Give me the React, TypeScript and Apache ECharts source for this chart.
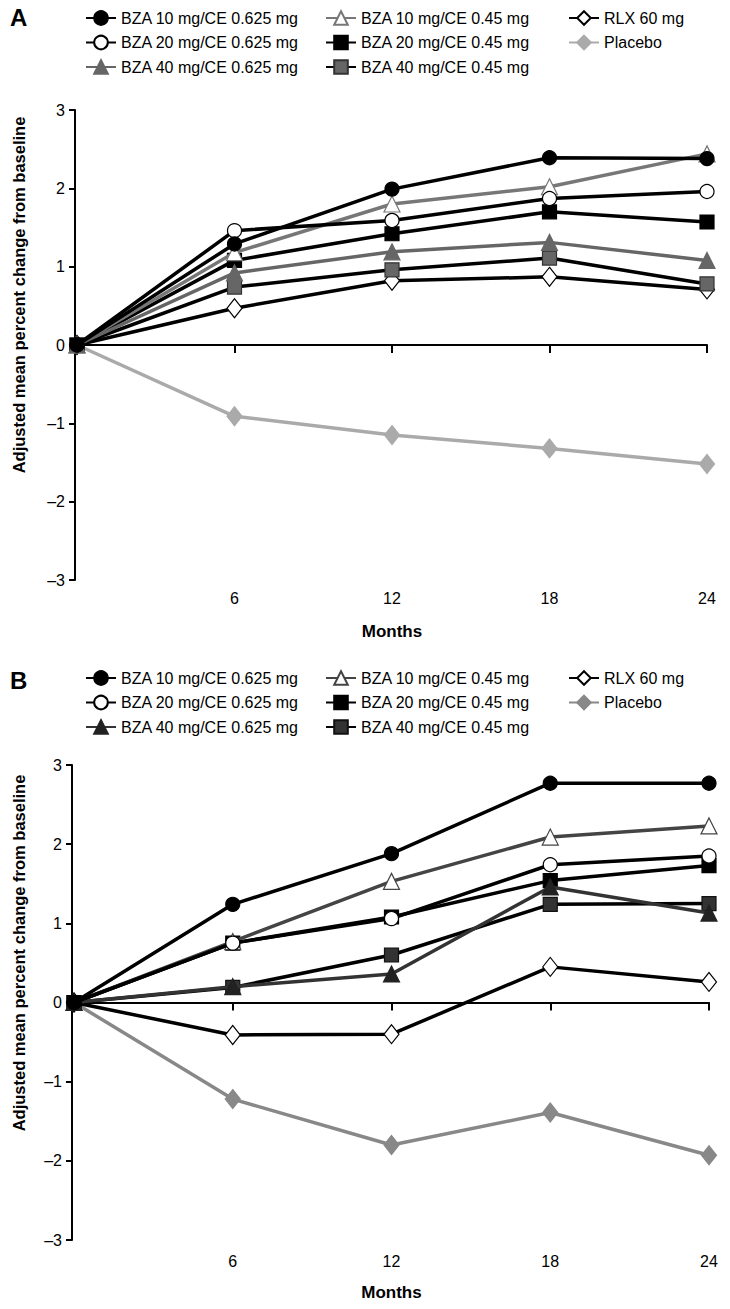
import React, { useEffect, useRef } from "react";
import * as echarts from "echarts";

const months = [0, 6, 12, 18, 24];
const xTickLabels = [6, 12, 18, 24];
const yTickLabels = [-3, -2, -1, 0, 1, 2, 3];

const names = [
  "BZA 10 mg/CE 0.625 mg",
  "BZA 20 mg/CE 0.625 mg",
  "BZA 40 mg/CE 0.625 mg",
  "BZA 10 mg/CE 0.45 mg",
  "BZA 20 mg/CE 0.45 mg",
  "BZA 40 mg/CE 0.45 mg",
  "RLX 60 mg",
  "Placebo",
];

// Panel A values
const aBza10_0625 = [0, 1.29, 1.99, 2.39, 2.38];
const aBza20_0625 = [0, 1.46, 1.59, 1.87, 1.96];
const aBza40_0625 = [0, 0.92, 1.19, 1.31, 1.08];
const aBza10_045 = [0, 1.18, 1.8, 2.02, 2.44];
const aBza20_045 = [0, 1.08, 1.42, 1.7, 1.57];
const aBza40_045 = [0, 0.74, 0.96, 1.11, 0.78];
const aRlx = [0, 0.47, 0.82, 0.87, 0.71];
const aPlacebo = [0, -0.91, -1.15, -1.32, -1.52];

// Panel B values
const bBza10_0625 = [0, 1.24, 1.88, 2.77, 2.77];
const bBza20_0625 = [0, 0.75, 1.06, 1.74, 1.85];
const bBza40_0625 = [0, 0.2, 0.36, 1.46, 1.13];
const bBza10_045 = [0, 0.77, 1.53, 2.09, 2.23];
const bBza20_045 = [0, 0.75, 1.08, 1.54, 1.73];
const bBza40_045 = [0, 0.19, 0.6, 1.24, 1.25];
const bRlx = [0, -0.41, -0.4, 0.45, 0.26];
const bPlacebo = [0, -1.22, -1.8, -1.39, -1.93];

const FONT = "'Liberation Sans', Arial, Helvetica, sans-serif";

type Style = { line: string; symbol: string; fill: string; border: string; size: any };

const stylesA: Style[] = [
  { line: "#000", symbol: "circle", fill: "#000", border: "#000", size: 14 },
  { line: "#000", symbol: "circle", fill: "#fff", border: "#000", size: 14 },
  { line: "#666", symbol: "triangle", fill: "#666", border: "#666", size: 16 },
  { line: "#777", symbol: "triangle", fill: "#fff", border: "#777", size: 16 },
  { line: "#000", symbol: "rect", fill: "#000", border: "#000", size: 14 },
  { line: "#000", symbol: "rect", fill: "#666", border: "#333", size: 14 },
  { line: "#000", symbol: "diamond", fill: "#fff", border: "#000", size: [15, 19] },
  { line: "#aaa", symbol: "diamond", fill: "#aaa", border: "#aaa", size: [15, 19] },
];

const stylesB: Style[] = [
  { line: "#000", symbol: "circle", fill: "#000", border: "#000", size: 14 },
  { line: "#000", symbol: "circle", fill: "#fff", border: "#000", size: 14 },
  { line: "#333", symbol: "triangle", fill: "#222", border: "#222", size: 16 },
  { line: "#444", symbol: "triangle", fill: "#fff", border: "#444", size: 16 },
  { line: "#000", symbol: "rect", fill: "#000", border: "#000", size: 14 },
  { line: "#000", symbol: "rect", fill: "#333", border: "#111", size: 14 },
  { line: "#000", symbol: "diamond", fill: "#fff", border: "#000", size: [15, 19] },
  { line: "#888", symbol: "diamond", fill: "#888", border: "#888", size: [15, 19] },
];

type Panel = {
  letter: string;
  values: number[][];
  styles: Style[];
  gridTop: number;
  gridBottom: number;
  gridLeft: number;
  gridRight: number;
  legendTop: number;
  labelMargin: number;
  nameGap: number;
  yNameY: number;
  letterY: number;
};

function buildOption(p: Panel) {
  const legendBase = {
    orient: "vertical",
    top: p.legendTop,
    itemWidth: 30,
    itemHeight: 17,
    itemGap: 8.5,
    textStyle: { fontFamily: FONT, fontSize: 16, color: "#000" },
    selectedMode: false,
  };
  const series = p.values.map((vals, i) => ({
    name: names[i],
    type: "line",
    data: months.map((m, j) => [m, vals[j]]),
    xAxisIndex: 0,
    yAxisIndex: 0,
    symbol: p.styles[i].symbol,
    symbolSize: p.styles[i].size,
    showAllSymbol: true,
    lineStyle: { color: p.styles[i].line, width: 3.5 },
    itemStyle: { color: p.styles[i].fill, borderColor: p.styles[i].border, borderWidth: 1.2 },
    z: 10 - i,
  }));
  return {
    animation: false,
    textStyle: { fontFamily: FONT },
    grid: { left: p.gridLeft, right: p.gridRight, top: p.gridTop, bottom: p.gridBottom, containLabel: false },
    legend: [
      { ...legendBase, left: 80, data: names.slice(0, 3) },
      { ...legendBase, left: 320, data: names.slice(3, 6) },
      { ...legendBase, left: 563, data: names.slice(6, 8) },
    ],
    xAxis: [
      {
        type: "value",
        min: 0,
        max: 24,
        interval: 6,
        axisLine: { show: true, onZero: true, lineStyle: { color: "#000", width: 2 } },
        axisTick: { show: true, length: 8, lineStyle: { color: "#000", width: 2 } },
        axisLabel: { show: false },
        splitLine: { show: false },
      },
      {
        type: "value",
        min: 0,
        max: 24,
        interval: 6,
        position: "bottom",
        axisLine: { show: false, onZero: false },
        axisTick: { show: false },
        splitLine: { show: false },
        axisLabel: {
          margin: p.labelMargin,
          fontSize: 16,
          color: "#000",
          fontFamily: FONT,
          formatter: (v: number) => (xTickLabels.indexOf(v) >= 0 ? String(v) : ""),
        },
        name: "Months",
        nameLocation: "middle",
        nameGap: p.nameGap,
        nameTextStyle: { fontSize: 17, fontWeight: "bold", color: "#000", fontFamily: FONT },
      },
    ],
    yAxis: {
      type: "value",
      min: -3,
      max: 3,
      interval: 1,
      offset: 2,
      axisLine: { show: true, onZero: false, lineStyle: { color: "#000", width: 2 } },
      axisTick: { show: true, length: 6, lineStyle: { color: "#000", width: 2 } },
      splitLine: { show: false },
      axisLabel: {
        margin: 10,
        fontSize: 16,
        color: "#000",
        fontFamily: FONT,
        formatter: (v: number) => (yTickLabels.indexOf(v) >= 0 ? (v < 0 ? "\u2013" + Math.abs(v) : String(v)) : ""),
      },
    },
    graphic: [
      {
        type: "text",
        left: 10,
        top: p.letterY,
        style: { text: p.letter, font: `bold 24px ${FONT}`, fill: "#000" },
      },
      {
        type: "text",
        x: 19,
        y: p.yNameY,
        rotation: Math.PI / 2,
        style: {
          text: "Adjusted mean percent change from baseline",
          font: `bold 16.5px ${FONT}`,
          fill: "#000",
          align: "center",
          verticalAlign: "middle",
        },
      },
    ],
    series,
  };
}

const panelA: Panel = {
  letter: "A",
  values: [aBza10_0625, aBza20_0625, aBza40_0625, aBza10_045, aBza20_045, aBza40_045, aRlx, aPlacebo],
  styles: stylesA,
  gridTop: 110,
  gridBottom: 63,
  gridLeft: 77,
  gridRight: 23,
  legendTop: 5,
  labelMargin: 10,
  nameGap: 43,
  yNameY: 295,
  letterY: 5,
};

const panelB: Panel = {
  letter: "B",
  values: [bBza10_0625, bBza20_0625, bBza40_0625, bBza10_045, bBza20_045, bBza40_045, bRlx, bPlacebo],
  styles: stylesB,
  gridTop: 120,
  gridBottom: 69,
  gridLeft: 74,
  gridRight: 21,
  legendTop: 20,
  labelMargin: 13,
  nameGap: 44,
  yNameY: 308,
  letterY: 23,
};

function ChartPanel({ panel, height }: { panel: Panel; height: number }) {
  const ref = useRef<HTMLDivElement>(null);
  useEffect(() => {
    if (!ref.current) return;
    const chart = echarts.init(ref.current, undefined, { renderer: "svg" });
    chart.setOption(buildOption(panel) as any);
    return () => chart.dispose();
  }, [panel]);
  return <div ref={ref} style={{ width: 730, height }} />;
}

export default function App() {
  useEffect(() => {
    document.body.style.margin = "0";
    document.body.style.background = "#fff";
  }, []);
  return (
    <div style={{ width: 730, height: 1309, background: "#fff" }}>
      <ChartPanel panel={panelA} height={645} />
      <ChartPanel panel={panelB} height={664} />
    </div>
  );
}
